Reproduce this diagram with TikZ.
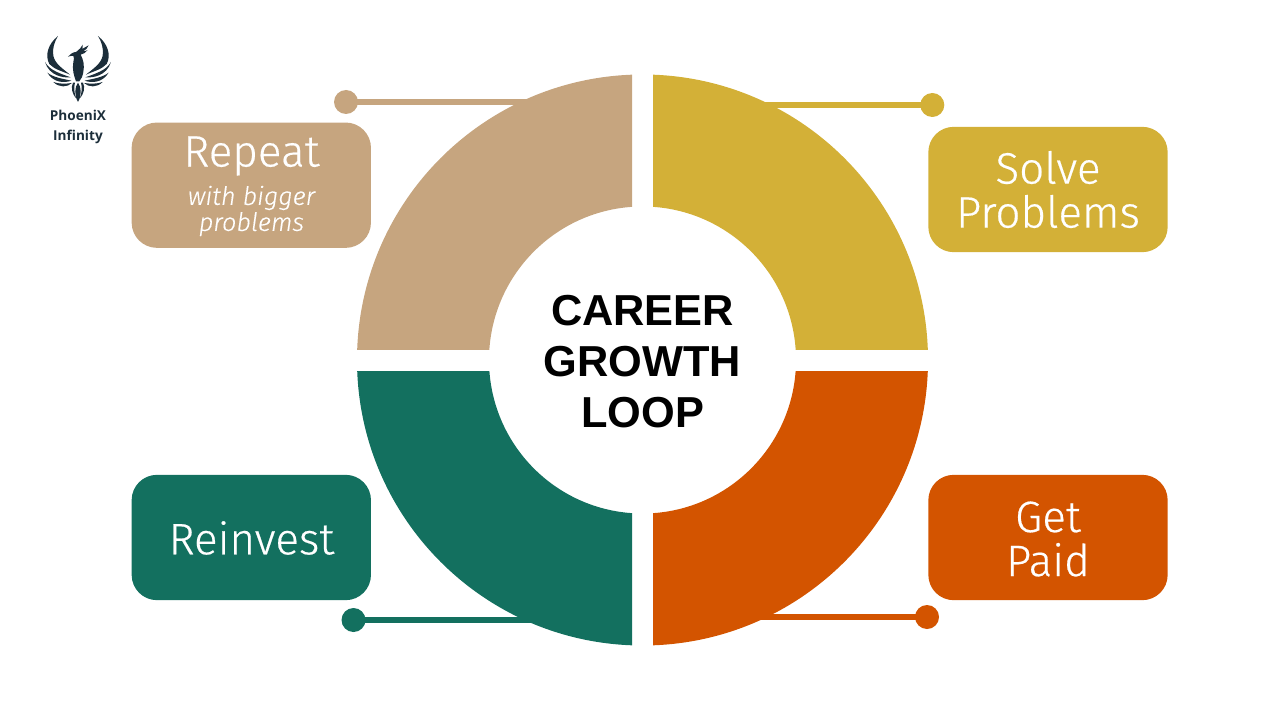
\documentclass[tikz,border=0pt]{standalone}
\usepackage{fontspec}
\setmainfont{Fira Sans}[UprightFont={* Light},ItalicFont={* Light Italic},BoldFont={* Bold},UprightFeatures={FakeBold=0.4},ItalicFeatures={FakeBold=0.3}]
\newfontfamily\logofont{Open Sans}[UprightFont={* Bold}]
\newfontfamily\titlefont{Liberation Sans}[UprightFont={* Bold}]
\definecolor{tan}{HTML}{C6A57F}
\definecolor{gold}{HTML}{D3B037}
\definecolor{rust}{HTML}{D35400}
\definecolor{teal}{HTML}{13705F}
\definecolor{ink}{HTML}{1C2E3A}
\tikzset{
 box/.style={draw=none,fill=#1,rounded corners=19pt,minimum width=179.5pt,minimum height=94pt,inner sep=0pt,text=white,align=center},
 dot/.style={circle,fill=#1,minimum size=18pt,inner sep=0pt},
 lead/.style={draw=#1,line width=4.5pt},
 head/.style={font=\fontsize{33}{33}\selectfont,text=white,align=center},
 sub/.style={font=\itshape\fontsize{19}{19.5}\selectfont,text=white,align=center},
 title/.style={font=\titlefont\fontsize{32.5}{38.25}\selectfont,align=center},
 logotext/.style={font=\logofont\fontsize{10.2}{15}\selectfont,text=ink,align=center}
}
\begin{document}
\begin{tikzpicture}[x=0.75pt,y=-0.75pt]
\useasboundingbox (0,0) rectangle (1280,720);
\coordinate (c) at (642.5,360);
\foreach \xa/\ya/\xb/\yb/\col in {653/60/940/349/gold,653/371/940/660/rust,345/371/632/660/teal,345/60/632/349/tan}{
 \begin{scope}
 \clip (\xa,\ya) rectangle (\xb,\yb);
 \fill[\col,even odd rule] (c) circle [radius=285.5] (c) circle [radius=153.5];
 \end{scope}
}
\node[box=tan] (repeat) at (251.3,185.2) {};
\node[box=gold] (solve) at (1048,189.5) {};
\node[box=teal] (reinvest) at (251.3,537.5) {};
\node[box=rust] (paid) at (1048,537.5) {};
\node[head] (t1) at (251.5,156) {Repeat};
\node[sub] (t2) at (251.5,211) {with bigger\\problems};
\node[head] (t3) at (1048,189.5) {Solve\\Problems};
\node[head] (t4) at (251.5,538) {Reinvest};
\node[head] (t5) at (1048,539) {Get\\Paid};
\node[title] (center) at (642.5,361.5) {CAREER\\GROWTH\\LOOP};
\node[dot=tan] (d1) at (346,102) {};
\node[dot=gold] (d2) at (932.3,105) {};
\node[dot=teal] (d3) at (353.5,620) {};
\node[dot=rust] (d4) at (927,617) {};
\coordinate (e1) at (535,102);
\coordinate (e2) at (750,105);
\coordinate (e3) at (540,620);
\coordinate (e4) at (745,617);
\draw[lead=tan] (d1.center) -- (e1);
\draw[lead=gold] (d2.center) -- (e2);
\draw[lead=teal] (d3.center) -- (e3);
\draw[lead=rust] (d4.center) -- (e4);
\node[logotext] (logo) at (78,126.5) {PhoeniX\\Infinity};
% phoenix mark, drawn in 3x coordinates of its own
\begin{scope}[shift={(40,32)},scale=0.3333,ink]
\foreach \s/\o in {1/0,-1/228}{
\begin{scope}[shift={(\o,0)},xscale=\s]
 \fill (54,12) .. controls (24,36) and (14,70) .. (28,96) .. controls (42,112) and (68,118) .. (90,128) .. controls (66,108) and (46,96) .. (40,72) .. controls (36,50) and (44,28) .. (54,12) -- cycle;
 \fill (15,90) .. controls (28,114) and (58,124) .. (92,136) .. controls (70,138) and (28,132) .. (15,90) -- cycle;
 \fill (22,122) .. controls (40,136) and (66,140) .. (94,146) .. controls (72,154) and (40,152) .. (22,122) -- cycle;
 \fill (40,150) .. controls (56,156) and (76,156) .. (96,153) .. controls (82,166) and (58,168) .. (40,150) -- cycle;
 \fill (99,152) .. controls (92,166) and (96,186) .. (109,200) .. controls (102,182) and (101,166) .. (105,152) -- cycle;
\end{scope}}
\fill (114,152) .. controls (125,166) and (125,190) .. (114,210) .. controls (103,190) and (103,166) .. (114,152) -- cycle;
\fill (84,74) .. controls (90,66) and (100,60) .. (108,60) .. controls (118,52) and (125,46) .. (128,38) .. controls (129,44) and (128,48) .. (126,51) .. controls (132,47) and (140,44) .. (146,40) .. controls (144,48) and (136,54) .. (130,58) .. controls (136,58) and (140,56) .. (143,54) .. controls (138,62) and (130,66) .. (122,68) .. controls (130,82) and (134,100) .. (130,120) .. controls (128,132) and (124,142) .. (118,148) -- (108,148) .. controls (102,132) and (96,112) .. (100,90) .. controls (102,82) and (103,76) .. (100,72) .. controls (95,71) and (90,72) .. (84,74) -- cycle;
\end{scope}
\end{tikzpicture}
\end{document}
